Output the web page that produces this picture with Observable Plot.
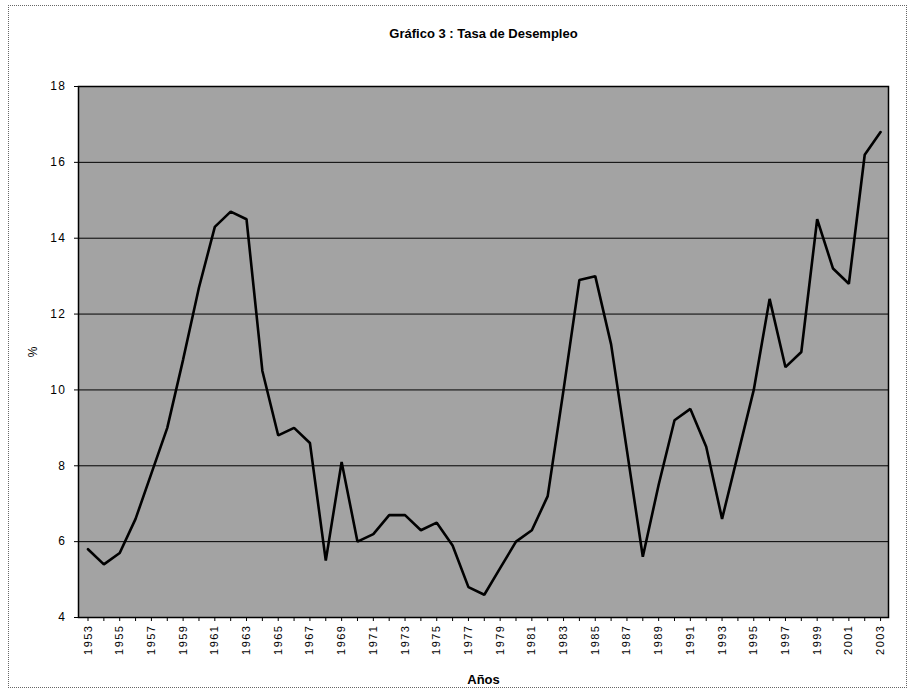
<!DOCTYPE html>
<html>
<head>
<meta charset="utf-8">
<script src="https://cdn.jsdelivr.net/npm/d3@7"></script>
<script src="https://cdn.jsdelivr.net/npm/@observablehq/plot@0.6"></script>
<style>
  body { margin: 0; background: #fff; }
  #wrap { position: relative; width: 915px; height: 693px; }
  #border { position: absolute; left: 8px; top: 5px; width: 897px; height: 681px; border: 1px dotted #666; pointer-events: none; }
  svg { font-family: "Liberation Sans", Arial, sans-serif; }
</style>
</head>
<body>
<div id="wrap"><div id="border"></div></div>
<script>
const years = [1953,1954,1955,1956,1957,1958,1959,1960,1961,1962,1963,1964,1965,1966,1967,1968,1969,1970,1971,1972,1973,1974,1975,1976,1977,1978,1979,1980,1981,1982,1983,1984,1985,1986,1987,1988,1989,1990,1991,1992,1993,1994,1995,1996,1997,1998,1999,2000,2001,2002,2003];
const rates = [5.8,5.4,5.7,6.6,7.8,9.0,10.8,12.7,14.3,14.7,14.5,10.5,8.8,9.0,8.6,5.5,8.1,6.0,6.2,6.7,6.7,6.3,6.5,5.9,4.8,4.6,5.3,6.0,6.3,7.2,10.0,12.9,13.0,11.2,8.4,5.6,7.5,9.2,9.5,8.5,6.6,8.3,10.0,12.4,10.6,11.0,14.5,13.2,12.8,16.2,16.8];
const yTicks = [4,6,8,10,12,14,16,18];
const title = "Gráfico 3 : Tasa de Desempleo";
const xLabel = "Años";
const yLabel = "%";

const data = years.map((y, i) => ({year: y, value: rates[i]}));

const chart = Plot.plot({
  width: 915,
  height: 693,
  marginLeft: 78,
  marginRight: 27,
  marginTop: 86,
  marginBottom: 76,
  style: {fontFamily: "Liberation Sans, Arial, sans-serif", fontSize: "11px", background: "transparent", color: "black"},
  x: {type: "linear", domain: [1952.4, 2003.5]},
  y: {type: "linear", domain: [4, 18]},
  marks: [
    Plot.frame({fill: "#a3a3a3"}),
    Plot.gridY(yTicks, {stroke: "black", strokeOpacity: 1, strokeWidth: 1}),
    Plot.line(data, {x: "year", y: "value", stroke: "black", strokeWidth: 2.6, strokeLinejoin: "miter"}),
    Plot.frame({stroke: "black", strokeWidth: 1.5}),
    Plot.axisY(yTicks, {tickSize: 4, tickPadding: 8, fontSize: 12, label: yLabel, labelAnchor: "center", labelOffset: 50, labelArrow: "none"}),
    Plot.axisX(years, {tickSize: 4, tickPadding: 3, tickRotate: -90, tickFormat: d => (d - 1953) % 2 === 0 ? String(d) : "", fontSize: 11, label: null}),
    Plot.text([xLabel], {frameAnchor: "bottom", dy: 66, fontWeight: "bold", fontSize: 13, text: d => d}),
    Plot.text([title], {frameAnchor: "top", dy: -58, fontWeight: "bold", fontSize: 13, text: d => d})
  ]
});
d3.select(chart).selectAll("g[aria-label='y-axis tick label'] text, g[aria-label='x-axis tick label'] text").style("letter-spacing", "1.5px");
document.getElementById("wrap").prepend(chart);
</script>
</body>
</html>
